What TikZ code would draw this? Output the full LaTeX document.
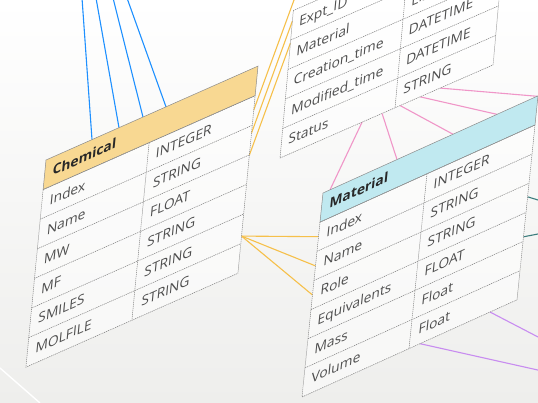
\documentclass[tikz,border=0pt]{standalone}
\usepackage{fontspec}
\setmainfont{Open Sans}
\definecolor{bgbottom}{RGB}{238,238,236}
\definecolor{hdrorange}{RGB}{248,216,146}
\definecolor{hdrcyan}{RGB}{192,233,240}
\definecolor{linkblue}{RGB}{30,144,255}
\definecolor{linkorange}{RGB}{246,192,74}
\definecolor{linkpink}{RGB}{240,150,200}
\definecolor{linkviolet}{RGB}{200,140,240}
\definecolor{linkteal}{RGB}{60,125,125}
\definecolor{celltext}{RGB}{78,78,78}
\definecolor{hdrtext}{RGB}{40,40,40}
\tikzset{
  gridline/.style={draw=black!50, line width=0.5pt, dash pattern=on 1.2pt off 0.8pt},
  hdrline/.style={draw=black!45, line width=0.5pt},
  cellfill/.style={fill=white, opacity=0.55},
  cell/.style={anchor=base west, inner sep=0pt, text=celltext, font=\fontsize{13.8}{16}\selectfont},
  hdr/.style={anchor=base west, inner sep=0pt, text=hdrtext, font=\fontsize{13.8}{16}\selectfont\bfseries},
  link/.style={line width=1.1pt},
}
\begin{document}
\begin{tikzpicture}[x=1pt,y=1pt]
\useasboundingbox (0,0) rectangle (538,-403);
\begin{scope}
\clip (0,0) rectangle (538,-403);
% background
\shade[top color=white, bottom color=bgbottom] (0,0) rectangle (538,-403);
\draw[white, line width=1.4pt] (0,-368) -- (40,-403);

% ---------- Chemical table anchors ----------
\begin{scope}[cm={1,0.443,0.097,1,(46pt,-160pt)}, transform shape]
  \coordinate (chemB1) at (46,0);
  \coordinate (chemB2) at (73,0);
  \coordinate (chemB3) at (97,0);
  \coordinate (chemB4) at (120,0);
  \coordinate (chemU1) at (212,-44);
  \coordinate (chemU2) at (212,-67);
  \coordinate (chemU3) at (212,-89);
  \coordinate (chemS) at (212,-170);
\end{scope}

% ---------- Experiment table anchors ----------
\begin{scope}[cm={1,0.437,0.09,1,(296pt,19pt)}, transform shape]
  \coordinate (expL1) at (0,-18);
  \coordinate (expL2) at (0,-40);
  \coordinate (expL3) at (0,-62);
  \coordinate (expP1) at (82,-177);
  \coordinate (expP2) at (102,-177);
  \coordinate (expP3) at (120,-177);
  \coordinate (expP4) at (140,-177);
  \coordinate (expP5) at (160,-177);
\end{scope}

% ---------- Material table anchors ----------
\begin{scope}[cm={1,0.452,0.103,1,(323pt,-193pt)}, transform shape]
  \coordinate (matP1) at (7,0);
  \coordinate (matP2) at (74,0);
  \coordinate (matP3) at (130,0);
  \coordinate (matP4) at (174,0);
  \coordinate (matP5) at (214,0);
  \coordinate (matL1) at (0,-43.7);
  \coordinate (matL2) at (0,-72.9);
  \coordinate (matL3) at (0,-102);
  \coordinate (matV1) at (188,-204);
  \coordinate (matV2) at (118,-204);
  \coordinate (matR1) at (215,-101);
  \coordinate (matR2) at (215,-141);
\end{scope}

% free ends at the border
\coordinate (blue1) at (82,2);
\coordinate (blue2) at (96,2);
\coordinate (blue3) at (113,2);
\coordinate (blue4) at (127,2);
\coordinate (vio1) at (540,-338);
\coordinate (vio2) at (540,-370.5);
\coordinate (teal1) at (540,-200.6);
\coordinate (teal2) at (540,-233.6);

% ---------- connectors ----------
\foreach \k in {1,...,4} \draw[link, linkblue] (blue\k) -- (chemB\k);
\foreach \k in {1,...,3} \draw[link, linkorange] (chemU\k) -- (expL\k);
\foreach \k in {1,...,3} \draw[link, linkorange] (chemS) -- (matL\k);
\foreach \k in {1,...,5} \draw[link, linkpink] (expP\k) -- (matP\k);
\foreach \k in {1,2} \draw[link, linkviolet] (matV\k) -- (vio\k);
\foreach \k in {1,2} \draw[link, linkteal] (matR\k) -- (teal\k);

% ---------- Chemical table ----------
\begin{scope}[cm={1,0.443,0.097,1,(46pt,-160pt)}, transform shape]
  \fill[cellfill] (0,-29.6) rectangle (212,-207.2);
  \fill[hdrorange] (0,0) rectangle (212,-29.6);
  \foreach \ri in {2,...,6} \draw[gridline] (0,{-\ri*29.6}) -- (212,{-\ri*29.6});
  \draw[gridline] (106,-29.6) -- (106,-207.2);
  \draw[gridline] (0,-29.6) rectangle (212,-207.2);
  \draw[hdrline] (0,0) rectangle (212,-29.6);
  \node[hdr] (chemH) at (8,-19.6) {Chemical};
  \foreach \n/\t [count=\ri] in {Index/INTEGER, Name/STRING, MW/FLOAT, MF/STRING, SMILES/STRING, MOLFILE/STRING}{
    \node[cell] (chemN\ri) at (8,{-(\ri+1)*29.6+10}) {\n};
    \node[cell] (chemT\ri) at (114,{-(\ri+1)*29.6+10}) {\t};
  }
\end{scope}

% ---------- Experiment table ----------
\begin{scope}[cm={1,0.437,0.09,1,(296pt,19pt)}, transform shape]
  \fill[cellfill] (0,-29.5) rectangle (213,-177);
  \foreach \ri in {2,...,5} \draw[gridline] (0,{-\ri*29.5}) -- (213,{-\ri*29.5});
  \draw[gridline] (115,-29.5) -- (115,-177);
  \draw[gridline] (0,-29.5) rectangle (213,-177);
  \foreach \n/\t [count=\ri] in {Expt\_ID/{}, Material/LIST, Creation\_time/DATETIME, Modified\_time/DATETIME, Status/STRING}{
    \node[cell] (expN\ri) at (7,{-(\ri+1)*29.5+10}) {\n};
    \node[cell] (expT\ri) at (122,{-(\ri+1)*29.5+10}) {\t};
  }
\end{scope}

% ---------- Material table ----------
\begin{scope}[cm={1,0.452,0.103,1,(323pt,-193pt)}, transform shape]
  \fill[cellfill] (0,-29.15) rectangle (215,-204);
  \fill[hdrcyan] (0,0) rectangle (215,-29.15);
  \foreach \ri in {2,...,6} \draw[gridline] (0,{-\ri*29.15}) -- (215,{-\ri*29.15});
  \draw[gridline] (107,-29.15) -- (107,-204);
  \draw[gridline] (0,-29.15) rectangle (215,-204);
  \draw[hdrline] (0,0) rectangle (215,-29.15);
  \node[hdr] (matH) at (8,-19.2) {Material};
  \foreach \n/\t [count=\ri] in {Index/INTEGER, Name/STRING, Role/STRING, Equivalents/FLOAT, Mass/Float, Volume/Float}{
    \node[cell] (matN\ri) at (8,{-(\ri+1)*29.15+10}) {\n};
    \node[cell] (matT\ri) at (115,{-(\ri+1)*29.15+10}) {\t};
  }
\end{scope}
\end{scope}
\end{tikzpicture}
\end{document}
